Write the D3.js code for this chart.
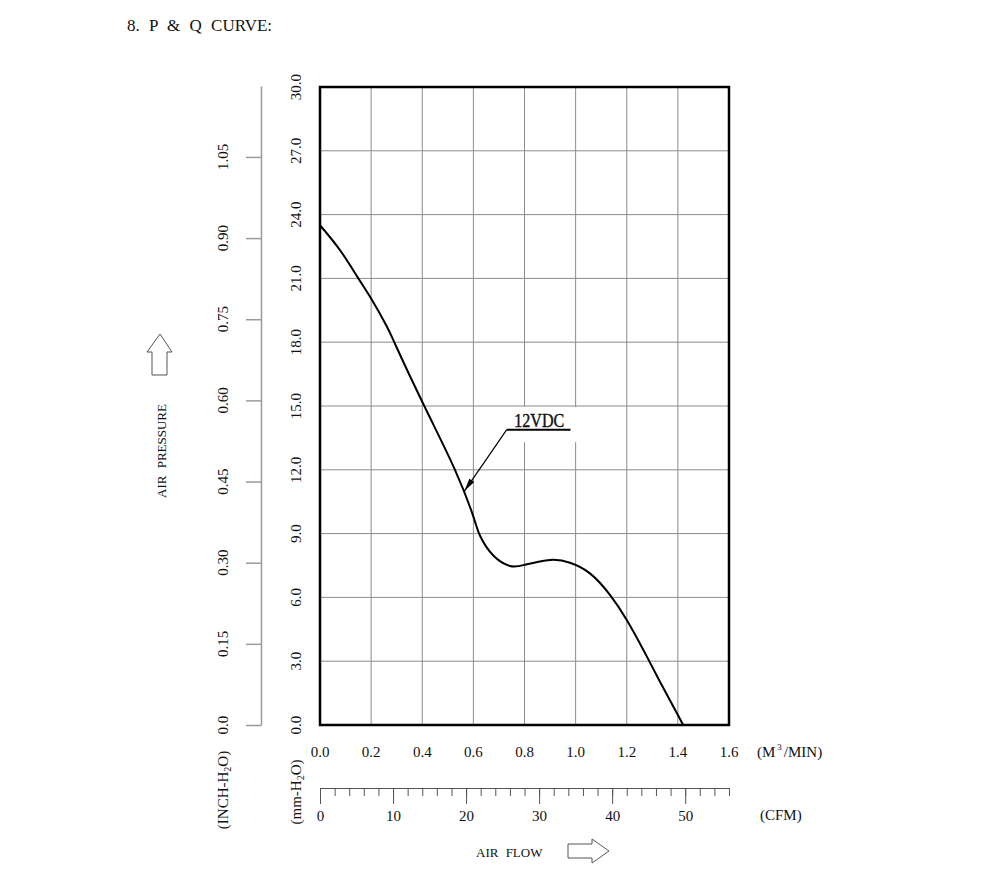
<!DOCTYPE html>
<html>
<head>
<meta charset="utf-8">
<script src="https://cdn.jsdelivr.net/npm/d3@7"></script>
<style>
  body { margin: 0; background: #fff; }
  svg { display: block; }
  text { font-family: "Liberation Serif", "DejaVu Serif", serif; fill: #111; }
</style>
</head>
<body>
<svg id="chart" width="1000" height="875"></svg>
<script>
// P & Q curve values (m3/min vs mm-H2O)
var flow = [0, 0.08, 0.15, 0.2, 0.261, 0.3, 0.408, 0.528, 0.6, 0.626, 0.678, 0.743, 0.8, 0.9, 0.978, 1.056, 1.135, 1.2, 1.265, 1.33, 1.421];
var pressure = [23.5, 22.3, 21.0, 20.05, 18.75, 17.75, 15.0, 12.0, 9.8, 8.9, 7.97, 7.48, 7.53, 7.76, 7.63, 7.13, 6.11, 4.94, 3.53, 2.03, 0];

var flowTicks = [0, 0.2, 0.4, 0.6, 0.8, 1.0, 1.2, 1.4, 1.6];
var mmTicks = [0, 3, 6, 9, 12, 15, 18, 21, 24, 27, 30];
var inchTicks = [0, 0.15, 0.30, 0.45, 0.60, 0.75, 0.90, 1.05];
var cfmMajor = [0, 10, 20, 30, 40, 50];
var cfmMinor = d3.range(0, 57, 2);

var curveName = "12VDC";

var svg = d3.select("#chart");

var plotLeft = 320, plotRight = 729, plotTop = 87, plotBottom = 725;

var x = d3.scaleLinear().domain([0, 1.6]).range([plotLeft, plotRight]);
var y = d3.scaleLinear().domain([0, 30]).range([plotBottom, plotTop]);
var yInch = d3.scaleLinear().domain([0, 30 / 25.4]).range([plotBottom, plotTop - 1]);
var xCfm = d3.scaleLinear().domain([0, 56]).range([plotLeft, plotRight]);

// title
svg.append("text")
  .attr("x", 127)
  .attr("y", 31)
  .attr("font-size", 17)
  .attr("word-spacing", 5)
  .text("8. P & Q CURVE:");

// grid
var grid = svg.append("g");
grid.selectAll(".vgrid")
  .data(flowTicks.slice(1, -1))
  .enter()
  .append("line")
  .attr("class", "vgrid")
  .attr("x1", function(d) { return x(d); })
  .attr("x2", function(d) { return x(d); })
  .attr("y1", plotTop)
  .attr("y2", plotBottom)
  .attr("stroke", "#8c8c8c")
  .attr("stroke-width", 1);

grid.selectAll(".hgrid")
  .data(mmTicks.slice(1, -1))
  .enter()
  .append("line")
  .attr("class", "hgrid")
  .attr("x1", plotLeft)
  .attr("x2", plotRight)
  .attr("y1", function(d) { return y(d); })
  .attr("y2", function(d) { return y(d); })
  .attr("stroke", "#8c8c8c")
  .attr("stroke-width", 1);

// clear the grid behind the curve label
svg.append("rect")
  .attr("x", x(0.7))
  .attr("y", y(15) + 1)
  .attr("width", x(1.1) - x(0.7))
  .attr("height", y(13.3) - y(15) - 1)
  .attr("fill", "#fff");

// curve
var pts = flow.map(function(d, i) { return [d, pressure[i]]; });
var line = d3.line()
  .x(function(d) { return x(d[0]); })
  .y(function(d) { return y(d[1]); })
  .curve(d3.curveNatural);

svg.append("path")
  .datum(pts)
  .attr("d", line)
  .attr("fill", "none")
  .attr("stroke", "#000")
  .attr("stroke-width", 2);

// label with leader
var lx = x(0.73), ly = y(13.88);
var tipX = x(0.565), tipY = y(11.0);
svg.append("text")
  .attr("x", x(0.76))
  .attr("y", y(14.0))
  .attr("font-size", 19)
  .attr("textLength", 50)
  .attr("lengthAdjust", "spacingAndGlyphs")
  .attr("stroke", "#111")
  .attr("stroke-width", 0.4)
  .text(curveName);
svg.append("line")
  .attr("x1", lx).attr("y1", ly)
  .attr("x2", x(0.98)).attr("y2", ly)
  .attr("stroke", "#000").attr("stroke-width", 2);
svg.append("line")
  .attr("x1", lx).attr("y1", ly)
  .attr("x2", tipX).attr("y2", tipY)
  .attr("stroke", "#000").attr("stroke-width", 1.2);
var ang = Math.atan2(tipY - ly, tipX - lx);
var hl = 13, hw = 3;
var bx = tipX - hl * Math.cos(ang), by = tipY - hl * Math.sin(ang);
svg.append("path")
  .attr("d", "M" + tipX + "," + tipY +
    "L" + (bx + hw * Math.sin(ang)) + "," + (by - hw * Math.cos(ang)) +
    "L" + (bx - hw * Math.sin(ang)) + "," + (by + hw * Math.cos(ang)) + "Z")
  .attr("fill", "#000");

// frame
svg.append("rect")
  .attr("x", plotLeft)
  .attr("y", plotTop)
  .attr("width", plotRight - plotLeft)
  .attr("height", plotBottom - plotTop)
  .attr("fill", "none")
  .attr("stroke", "#000")
  .attr("stroke-width", 2.5);

// mm-H2O labels
svg.selectAll(".mmLabel")
  .data(mmTicks)
  .enter()
  .append("text")
  .attr("class", "mmLabel")
  .attr("transform", function(d) { return "translate(301," + y(d) + ") rotate(-90)"; })
  .attr("text-anchor", "middle")
  .attr("font-size", 15)
  .text(function(d) { return d.toFixed(1); });

// inch axis
var inchAxis = d3.axisLeft(yInch)
  .tickValues(inchTicks)
  .tickSize(15)
  .tickSizeOuter(0)
  .tickFormat("");
svg.append("g")
  .attr("transform", "translate(261,0)")
  .call(inchAxis)
  .call(function(g) {
    g.selectAll("path, line").attr("stroke", "#9a9a9a").attr("stroke-width", 1.5);
  });

svg.selectAll(".inchLabel")
  .data(inchTicks)
  .enter()
  .append("text")
  .attr("class", "inchLabel")
  .attr("transform", function(d) { return "translate(228," + yInch(d) + ") rotate(-90)"; })
  .attr("text-anchor", "middle")
  .attr("font-size", 15)
  .text(function(d) { return d === 0 ? "0.0" : d.toFixed(2); });

// axis titles, left side
function unitLabel(sel, cx, cy, main) {
  var t = sel.append("text")
    .attr("transform", "translate(" + cx + "," + cy + ") rotate(-90)")
    .attr("text-anchor", "middle")
    .attr("font-size", 15);
  t.append("tspan").text("(" + main + "-H");
  t.append("tspan").attr("font-size", 10).attr("dy", 3).text("2");
  t.append("tspan").attr("dy", -3).text("O)");
}
unitLabel(svg, 228, 790, "INCH");
unitLabel(svg, 301, 792, "mm");

svg.append("text")
  .attr("transform", "translate(166,451) rotate(-90)")
  .attr("text-anchor", "middle")
  .attr("font-size", 13)
  .attr("word-spacing", 4)
  .text("AIR PRESSURE");

svg.append("path")
  .attr("d", "M160,334 L172,352 L167,352 L167,375 L152,375 L152,352 L147,352 Z")
  .attr("fill", "#fff")
  .attr("stroke", "#555")
  .attr("stroke-width", 1);

// flow labels
svg.selectAll(".flowLabel")
  .data(flowTicks)
  .enter()
  .append("text")
  .attr("class", "flowLabel")
  .attr("x", function(d) { return x(d); })
  .attr("y", 757)
  .attr("text-anchor", "middle")
  .attr("font-size", 15)
  .text(function(d) { return d.toFixed(1); });

var m3 = svg.append("text")
  .attr("x", 757)
  .attr("y", 757)
  .attr("font-size", 15);
m3.append("tspan").text("(M");
m3.append("tspan").attr("font-size", 9).attr("dx", 2).attr("dy", -7).text("3");
m3.append("tspan").attr("dx", 2).attr("dy", 7).text("/MIN)");

// CFM axis
var cfmMinorAxis = d3.axisBottom(xCfm)
  .tickValues(cfmMinor)
  .tickSize(8)
  .tickSizeOuter(0)
  .tickFormat("");
svg.append("g")
  .attr("transform", "translate(0,788)")
  .call(cfmMinorAxis)
  .call(function(g) {
    g.selectAll("path, line").attr("stroke", "#555").attr("stroke-width", 1);
  });

var cfmMajorAxis = d3.axisBottom(xCfm)
  .tickValues(cfmMajor)
  .tickSize(16)
  .tickPadding(6);
svg.append("g")
  .attr("transform", "translate(0,788)")
  .call(cfmMajorAxis)
  .call(function(g) {
    g.select(".domain").remove();
    g.selectAll("line").attr("stroke", "#555").attr("stroke-width", 1);
    g.selectAll("text")
      .attr("font-family", "Liberation Serif, serif")
      .attr("font-size", 15)
      .attr("fill", "#111");
  });

svg.append("text")
  .attr("x", 760)
  .attr("y", 820)
  .attr("font-size", 15)
  .text("(CFM)");

svg.append("text")
  .attr("x", 476)
  .attr("y", 857)
  .attr("font-size", 13)
  .attr("word-spacing", 4)
  .text("AIR FLOW");

svg.append("path")
  .attr("d", "M568,844 L592,844 L592,839 L609,851 L592,863 L592,858 L568,858 Z")
  .attr("fill", "#fff")
  .attr("stroke", "#555")
  .attr("stroke-width", 1);
</script>
</body>
</html>
